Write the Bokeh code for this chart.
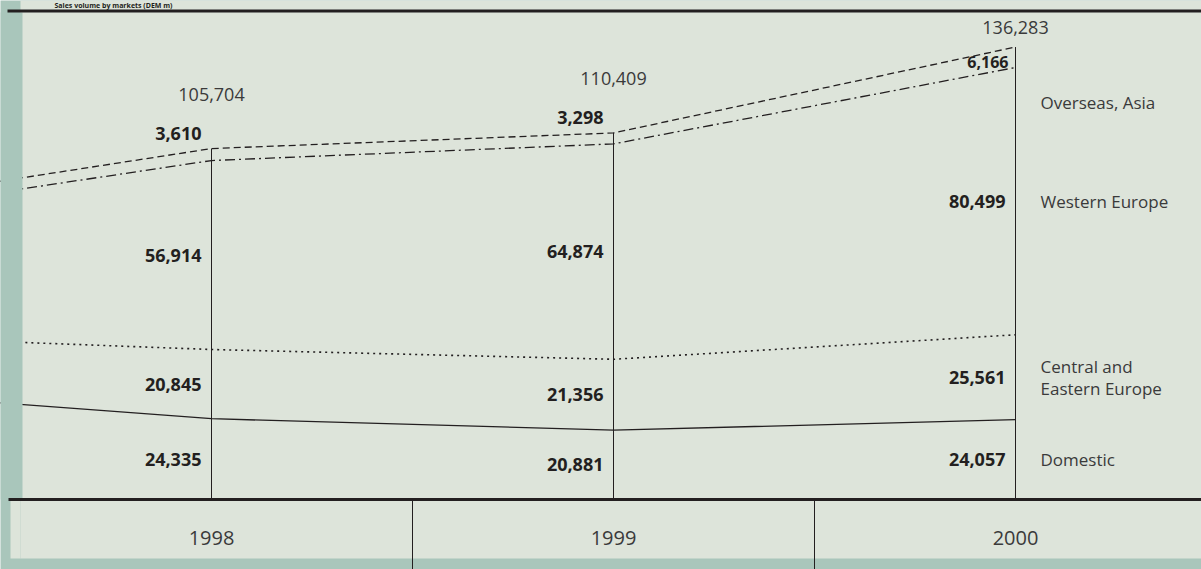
from bokeh.plotting import figure
from bokeh.models import Range1d, ColumnDataSource
from bokeh.core.properties import value
from bokeh.embed import file_html
from bokeh.resources import INLINE

# ---------------- data (DEM m) ----------------
years = [1998, 1999, 2000]
year_labels = ["1998", "1999", "2000"]
domestic = [24335, 20881, 24057]
central_eastern = [20845, 21356, 25561]
western_europe = [56914, 64874, 80499]
overseas_asia = [3610, 3298, 6166]
totals = [105704, 110409, 136283]
# previous year: not labelled, estimated from the line stubs entering at the left edge
prev_year = 1997
prev_domestic = 33400
prev_central_eastern = 16300
prev_western_europe = 34300
prev_overseas_asia = 3000
categories = ["Overseas, Asia", "Western Europe", "Central and\nEastern Europe", "Domestic"]
title = "Sales volume by markets (DEM m)"

# ---------------- layout / style ----------------
W, H = 1201, 569
BASE_PX = 499            # screen row of the zero line (bottom rule)
PX_PER_UNIT = 0.00332    # vertical scale
PX_PER_YEAR = 402
FIRST_YEAR_PX = 211
TEAL = "#a9c6bb"
PANEL = "#dde4da"
INK = "#231f20"
GREY = "#3a3a3a"
FONT = value("Open Sans")

x_start = years[0] - FIRST_YEAR_PX / PX_PER_YEAR
x_end = x_start + W / PX_PER_YEAR
y_start = -(H - BASE_PX) / PX_PER_UNIT
y_end = BASE_PX / PX_PER_UNIT

p = figure(width=W, height=H, x_range=Range1d(x_start, x_end), y_range=Range1d(y_start, y_end),
           output_backend="svg", toolbar_location=None, min_border=0,
           x_axis_location=None, y_axis_location=None)
p.grid.visible = False
p.outline_line_color = None
p.background_fill_color = TEAL
p.border_fill_color = TEAL
p.extra_x_ranges = {"px": Range1d(0, W)}
p.extra_y_ranges = {"px": Range1d(H, 0)}
PX = dict(x_range_name="px", y_range_name="px")

# panel background
p.quad(left=[20, 10], right=[W, 20], top=[0, 499], bottom=[558, 558],
       fill_color=PANEL, line_color=None, **PX)

# cumulative stacks
xs = [prev_year] + years
dom = [prev_domestic] + domestic
cee = [prev_central_eastern] + central_eastern
we = [prev_western_europe] + western_europe
ovs = [prev_overseas_asia] + overseas_asia
cum1 = dom
cum2 = [a + b for a, b in zip(cum1, cee)]
cum3 = [a + b for a, b in zip(cum2, we)]
cum4 = [a + b for a, b in zip(cum3, ovs)]

p.line(xs, cum1, line_color=INK, line_width=1.3)
p.line(xs, cum2, line_color=INK, line_width=1.6, line_dash="2 4")
p.line(xs, cum3, line_color=INK, line_width=1.3, line_dash="10 4 2 4")
p.line(xs, cum4, line_color=INK, line_width=1.3, line_dash="7 4")

# teal left strip hides the part of the lines outside the panel
p.quad(left=[0], right=[22], top=[12], bottom=[499], fill_color=TEAL, line_color=None, **PX)

# verticals at each year, from the total down to the zero line
p.segment(x0=years, y0=totals, x1=years, y1=[0] * len(years), line_color=INK, line_width=1)

# rules
p.segment(x0=[7, 8], y0=[10.5, 499], x1=[W, W], y1=[10.5, 499], line_color=INK, line_width=3, **PX)

# year row separators
mids = [(a + b) / 2 for a, b in zip(years, years[1:])]
p.segment(x0=mids, y0=[499] * len(mids), x1=mids, y1=[H] * len(mids),
          line_color=INK, line_width=1, y_range_name="px")
p.text(x=years, y=[537] * len(years), text=year_labels, y_range_name="px",
       text_align="center", text_baseline="middle", text_font=FONT,
       text_font_size="20px", text_color=GREY)

fmt = lambda v: f"{v:,}"
bold = dict(text_font=FONT, text_font_size="18px", text_font_style="bold", text_color=INK,
            text_align="right", text_baseline="middle", x_offset=-10)

c1 = domestic
c2 = [a + b for a, b in zip(c1, central_eastern)]
c3 = [a + b for a, b in zip(c2, western_europe)]

p.text(x=years, y=[v / 2 for v in domestic], text=[fmt(v) for v in domestic], **bold)
p.text(x=years, y=[a + b / 2 for a, b in zip(c1, central_eastern)],
       text=[fmt(v) for v in central_eastern], **bold)
p.text(x=years, y=[a + b / 2 for a, b in zip(c2, western_europe)],
       text=[fmt(v) for v in western_europe], **bold)

# overseas label: above the top line when its band is thin, inside the band otherwise
thin = [v * PX_PER_UNIT < 16 for v in overseas_asia]
above = ColumnDataSource(dict(x=[y for y, t in zip(years, thin) if t],
                              y=[v for v, t in zip(totals, thin) if t],
                              o=[fmt(v) for v, t in zip(overseas_asia, thin) if t],
                              tot=[fmt(v) for v, t in zip(totals, thin) if t]))
below = ColumnDataSource(dict(x=[y for y, t in zip(years, thin) if not t],
                              y=[v for v, t in zip(totals, thin) if not t],
                              o=[fmt(v) for v, t in zip(overseas_asia, thin) if not t],
                              tot=[fmt(v) for v, t in zip(totals, thin) if not t]))
p.text(x="x", y="y", text="o", source=above, y_offset=-15, **bold)
inside = dict(bold, x_offset=-7, text_font_size="16px")
p.text(x="x", y="y", text="o", source=below, y_offset=15, **inside)

tot_style = dict(text_font=FONT, text_font_size="18px", text_color=GREY,
                 text_align="center", text_baseline="middle")
p.text(x="x", y="y", text="tot", source=above, y_offset=-54, **tot_style)
p.text(x="x", y="y", text="tot", source=below, y_offset=-20, **tot_style)

# category labels to the right of the last year
cat_style = dict(text_font=FONT, text_font_size="17px", text_color=GREY,
                 text_align="left", text_baseline="middle", x_offset=25, text_line_height=0.95)
last = years[-1]
p.text(x=[last], y=[c3[-1]], text=[categories[0]], y_offset=35, **cat_style)
p.text(x=[last], y=[c2[-1] + western_europe[-1] / 2], text=[categories[1]], **cat_style)
p.text(x=[last], y=[c1[-1] + central_eastern[-1] / 2], text=[categories[2]], **cat_style)
p.text(x=[last], y=[domestic[-1] / 2], text=[categories[3]], **cat_style)

# title, squeezed into the strip above the top rule
p.text(x=[54], y=[0], text=[title], text_font=FONT, text_font_size="7px",
       text_font_style="bold", text_color=INK, text_baseline="top", **PX)

open("out.html", "w").write(file_html(p, INLINE))
